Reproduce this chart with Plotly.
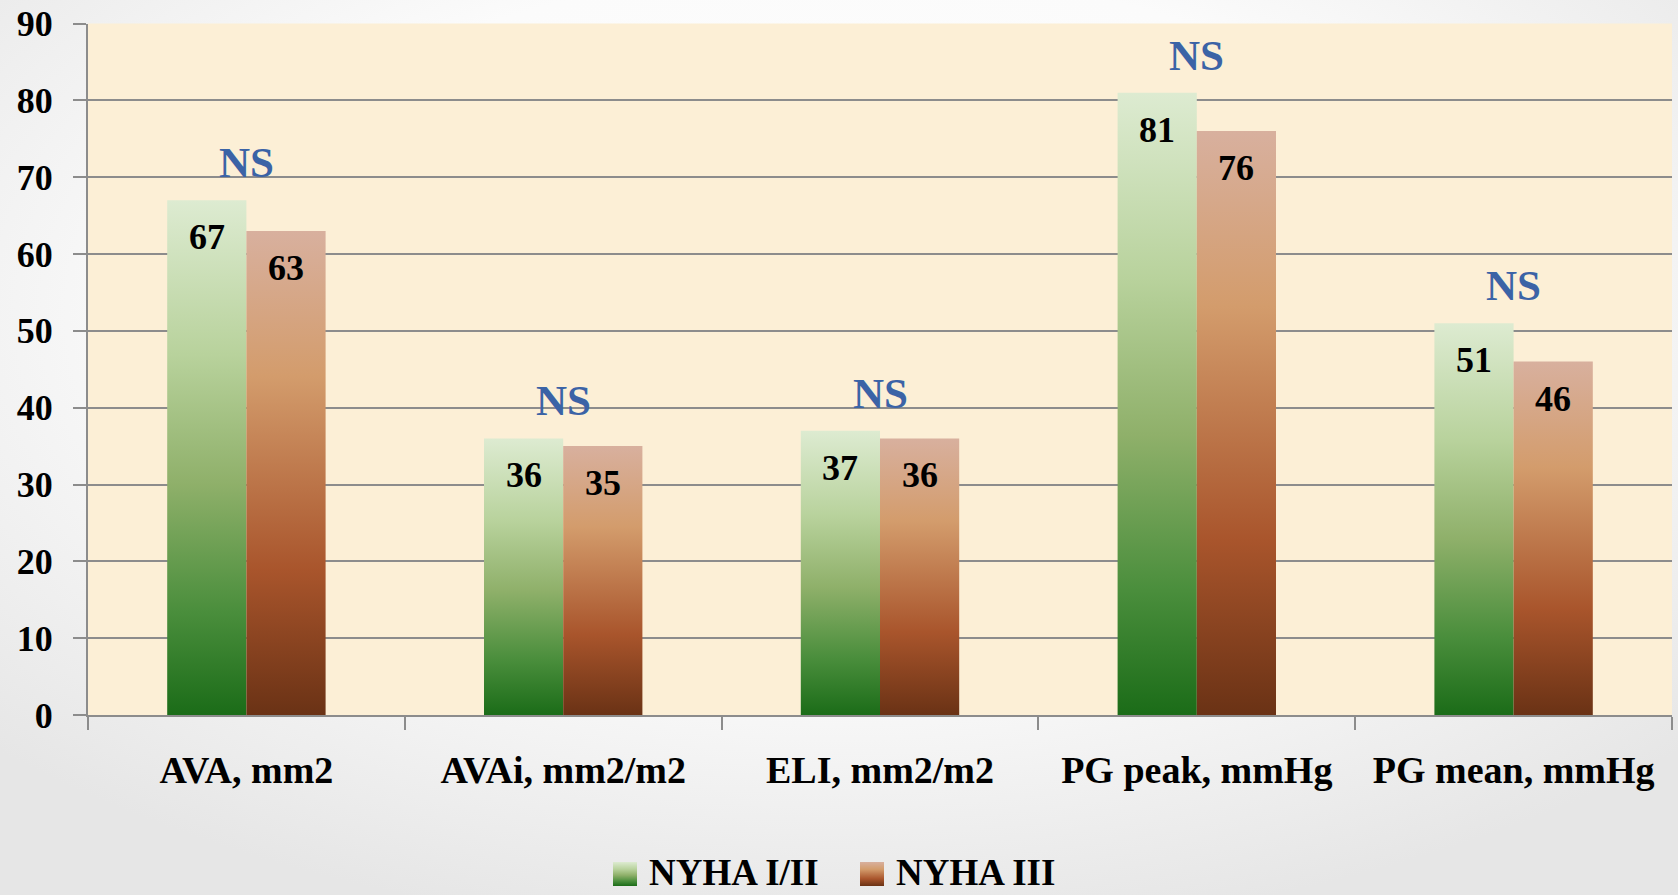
import base64
import plotly.graph_objects as go

# Aortic valve parameters by NYHA functional class
categories = ["AVA, mm2", "AVAi, mm2/m2", "ELI, mm2/m2", "PG peak, mmHg", "PG mean, mmHg"]
nyha_1_2 = [67, 36, 37, 81, 51]
nyha_3 = [63, 35, 36, 76, 46]
significance = ["NS", "NS", "NS", "NS", "NS"]
series_names = ["NYHA I/II", "NYHA III"]
y_ticks = [0, 10, 20, 30, 40, 50, 60, 70, 80, 90]

FONT = "Liberation Serif"
GREEN_SCALE = [[0.0, "#1b6c18"], [0.2, "#4a8e3c"], [0.45, "#8fb06a"],
               [0.7, "#b8d29c"], [1.0, "#ddebd1"]]
BROWN_SCALE = [[0.0, "#6a3215"], [0.3, "#a9552c"], [0.7, "#d39c6c"],
               [1.0, "#d8b09e"]]
SCALES = [GREEN_SCALE, BROWN_SCALE]
BAR_W = 0.25
GRID = "#8c8c8c"

# page geometry in pixels
W, H = 1678, 895
PLOT_L, PLOT_R, PLOT_T, PLOT_B = 88, 1672, 23.5, 715
LEG_H = 60                       # height of the legend strip at the bottom
LEG_SWATCH = [(613, 862), (860, 862)]   # left / top of each swatch
SWATCH = 24
LEG_TEXT_X = [647, 894]

fig = go.Figure()

series = [(series_names[0], nyha_1_2, GREEN_SCALE, -BAR_W),
          (series_names[1], nyha_3, BROWN_SCALE, 0.0)]

for name, values, scale, offset in series:
    for i, v in enumerate(values):
        x0 = i + offset
        x1 = x0 + BAR_W
        fig.add_trace(go.Scatter(
            x=[x0, x0, x1, x1, x0],
            y=[0, v, v, 0, 0],
            mode="none",
            fill="toself",
            fillgradient=dict(type="vertical", colorscale=scale, start=0, stop=v),
            name=name,
            showlegend=False,
            hoverinfo="skip",
        ))
        fig.add_annotation(
            x=x0 + BAR_W / 2, y=v, text=str(v), showarrow=False,
            yanchor="middle", yshift=-37,
            font=dict(family=FONT, size=36, color="black", weight="bold"),
        )

# significance marks above each pair
for i, s in enumerate(significance):
    top = max(nyha_1_2[i], nyha_3[i])
    fig.add_annotation(
        x=i, y=top, text=s, showarrow=False, yanchor="bottom", yshift=12,
        font=dict(family=FONT, size=43, color="#3b63a6", weight="bold"),
    )

# legend strip: gradient swatches and series names on their own pixel axes
for (sx, sy), tx, name, scale in zip(LEG_SWATCH, LEG_TEXT_X, series_names, SCALES):
    yb = H - sy - SWATCH
    yt = H - sy
    fig.add_trace(go.Scatter(
        x=[sx, sx, sx + SWATCH, sx + SWATCH, sx],
        y=[yb, yt, yt, yb, yb],
        xaxis="x2", yaxis="y2",
        mode="none", fill="toself",
        fillgradient=dict(type="vertical", colorscale=scale, start=yb, stop=yt),
        showlegend=False, hoverinfo="skip",
    ))
    fig.add_annotation(
        xref="x2", yref="y2", x=tx, y=0, text=name,
        showarrow=False, xanchor="left", yanchor="bottom",
        font=dict(family=FONT, size=37, color="black", weight="bold"),
    )

# soft page background
svg = (
    f'<svg xmlns="http://www.w3.org/2000/svg" width="{W}" height="{H}">'
    '<defs><radialGradient id="g" cx="50%" cy="35%" r="70%">'
    '<stop offset="0" stop-color="#ffffff"/><stop offset="0.55" stop-color="#fbfbfb"/>'
    '<stop offset="1" stop-color="#e6e6e6"/></radialGradient></defs>'
    '<rect width="100%" height="100%" fill="url(#g)"/></svg>'
)
fig.add_layout_image(
    source="data:image/svg+xml;base64," + base64.b64encode(svg.encode()).decode(),
    xref="paper", yref="paper", x=0, y=1, sizex=1, sizey=1,
    xanchor="left", yanchor="top", sizing="stretch", layer="below",
)

x_dom = [PLOT_L / W, PLOT_R / W]
y_dom = [(H - PLOT_B) / H, (H - PLOT_T) / H]

# cream plotting area
fig.add_shape(type="rect", xref="paper", yref="paper",
              x0=x_dom[0], x1=x_dom[1], y0=y_dom[0], y1=y_dom[1],
              fillcolor="#fcefd6", line_width=0, layer="below")

fig.update_layout(
    width=W, height=H, margin=dict(l=0, r=0, t=0, b=0, autoexpand=False),
    paper_bgcolor="#f7f7f7", plot_bgcolor="rgba(0,0,0,0)",
    showlegend=False,
    xaxis=dict(
        domain=x_dom, automargin=False,
        range=[-0.5, len(categories) - 0.5],
        tickmode="array", tickvals=list(range(len(categories))), ticktext=categories,
        ticks="", showgrid=False, zeroline=False,
        showline=True, linecolor=GRID, linewidth=2,
        tickfont=dict(family=FONT, size=38, color="black", weight="bold"),
        ticklabelstandoff=20,
        minor=dict(tickmode="array",
                   tickvals=[i - 0.5 for i in range(len(categories) + 1)],
                   ticks="outside", ticklen=13, tickwidth=2, tickcolor=GRID,
                   showgrid=False),
        fixedrange=True,
    ),
    yaxis=dict(
        domain=y_dom, automargin=False,
        range=[0, 90], tickmode="array", tickvals=y_ticks,
        ticks="outside", ticklen=13, tickwidth=2, tickcolor=GRID,
        showgrid=True, gridcolor=GRID, gridwidth=2, zeroline=False,
        showline=True, linecolor=GRID, linewidth=2,
        tickfont=dict(family=FONT, size=36, color="black", weight="bold"),
        ticklabelstandoff=13,
        fixedrange=True,
    ),
    xaxis2=dict(domain=[0, 1], range=[0, W], visible=False, fixedrange=True,
                automargin=False, anchor="y2"),
    yaxis2=dict(domain=[0, LEG_H / H], range=[0, LEG_H], visible=False,
                fixedrange=True, anchor="x2", automargin=False),
)

fig.write_html("out.html")
